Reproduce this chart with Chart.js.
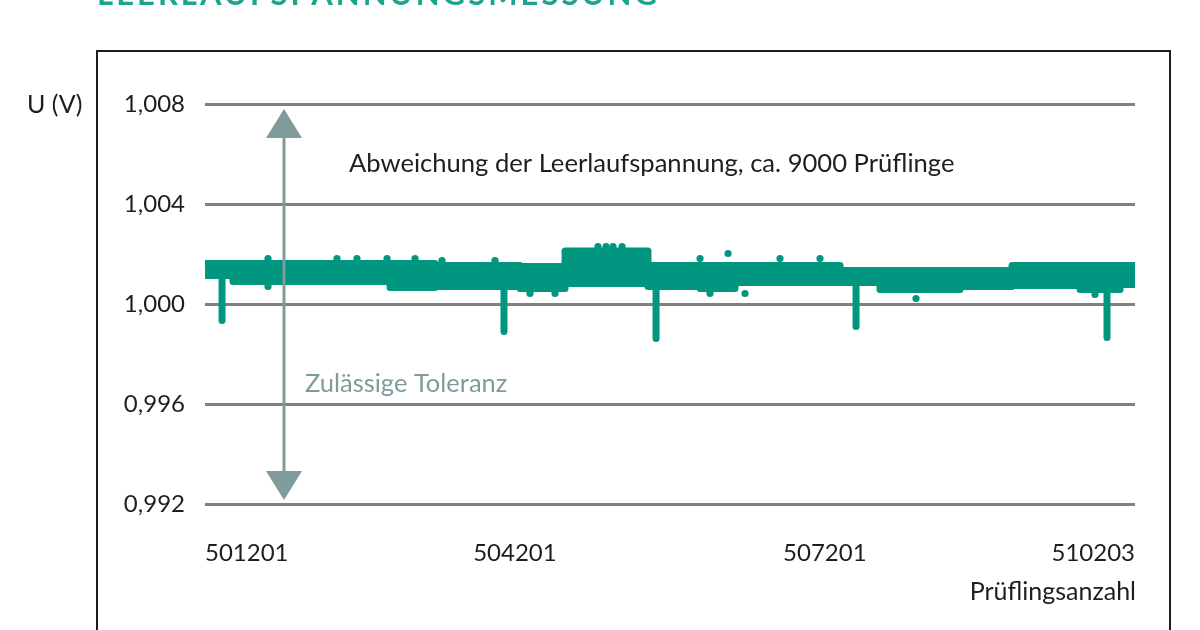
<!DOCTYPE html>
<html>
<head>
<meta charset="utf-8">
<script src="https://cdn.jsdelivr.net/npm/chart.js@4.4.1/dist/chart.umd.min.js"></script>
<style>
  html, body { margin: 0; padding: 0; background: #ffffff; overflow: hidden; }
  #wrap { position: relative; width: 1200px; height: 630px; }
  #frame { position: absolute; left: 96px; top: 50px; width: 1071px; height: 700px; border: 2px solid #1c1c1c; }
  canvas { position: absolute; left: 0; top: 0; }
</style>
</head>
<body>
<div id="wrap">
  <div id="frame"></div>
  <canvas id="c" width="1200" height="630"></canvas>
</div>
<script>
// ---- data ----
const titleText = 'LEERLAUFSPANNUNGSMESSUNG';
const yTitle = 'U (V)';
const xTitle = 'Prüflingsanzahl';
const noteText = 'Abweichung der Leerlaufspannung, ca. 9000 Prüflinge';
const toleranceText = 'Zulässige Toleranz';

const yTickValues = [0.992, 0.996, 1.000, 1.004, 1.008];
const xTickValues = [501201, 504201, 507201, 510203];
const xTickLabels = ['501201', '504201', '507201', '510203'];

// envelope of the measured band (max / min per section, value valid from envX[i] to envX[i+1])
const envX    = [501201, 501472, 502992, 503427, 503863, 504250, 504686, 505489, 505993, 506331, 507348, 507735, 508509, 509013, 509671, 510058, 510203];
const envHigh = [1.00162, 1.00162, 1.00162, 1.00154, 1.00154, 1.00150, 1.00212, 1.00154, 1.00154, 1.00154, 1.00134, 1.00134, 1.00134, 1.00154, 1.00154, 1.00154, 1.00154];
const envLow  = [1.00114, 1.00090, 1.00066, 1.00070, 1.00070, 1.00062, 1.00082, 1.00070, 1.00062, 1.00086, 1.00086, 1.00058, 1.00070, 1.00074, 1.00058, 1.00078, 1.00078];

// single high outliers
const upX = [501811, 502479, 502672, 502963, 503234, 503495, 504008, 505005, 505083, 505150, 505238, 505993, 506264, 506767, 507154];
const upY = [1.00182, 1.00182, 1.00182, 1.00182, 1.00182, 1.00174, 1.00174, 1.00230, 1.00230, 1.00230, 1.00230, 1.00182, 1.00202, 1.00182, 1.00182];

// single low outliers
const downX = [501811, 504347, 504589, 506089, 506428, 508083, 509816];
const downY = [1.00070, 1.00042, 1.00042, 1.00042, 1.00042, 1.00022, 1.00038];

// deep drops
const spikeX   = [501366, 504095, 505567, 507503, 509932];
const spikeY   = [0.99934, 0.99890, 0.99862, 0.99910, 0.99866];
const spikeTop = [1.00110, 1.00100, 1.00100, 1.00100, 1.00100];

// tolerance arrow
const arrowX = 501966;
const arrowFrom = 1.008;
const arrowTo = 0.992;

// ---- styling ----
const TEAL = '#00967f';
const TITLE_TEAL = '#1ea48e';
const ARROW = '#7f9b9b';
const TEXT = '#1e1e1e';
const FONT = 'Lato, "Open Sans", "Noto Sans", sans-serif';

const highPts = envX.map((x, i) => ({ x: x, y: envHigh[i] }));
const lowPts = envX.map((x, i) => ({ x: x, y: envLow[i] }));
const upPts = upX.map((x, i) => ({ x: x, y: upY[i] }));
const downPts = downX.map((x, i) => ({ x: x, y: downY[i] }));
const spikePts = [];
spikeX.forEach((x, i) => {
  spikePts.push({ x: x, y: spikeTop[i] });
  spikePts.push({ x: x, y: spikeY[i] });
  spikePts.push({ x: x, y: null });
});

const annotations = {
  id: 'annotations',
  afterDatasetsDraw(chart) {
    const ctx = chart.ctx;
    const xs = chart.scales.x, ys = chart.scales.y;
    ctx.save();
    // arrow
    const ax = Math.round(xs.getPixelForValue(arrowX));
    const yTop = ys.getPixelForValue(arrowFrom) + 5;
    const yBot = ys.getPixelForValue(arrowTo) - 4;
    const headH = 29, headW = 36;
    ctx.strokeStyle = ARROW;
    ctx.fillStyle = ARROW;
    ctx.lineWidth = 3;
    ctx.beginPath();
    ctx.moveTo(ax, yTop + headH - 2);
    ctx.lineTo(ax, yBot - headH + 2);
    ctx.stroke();
    ctx.beginPath();
    ctx.moveTo(ax, yTop);
    ctx.lineTo(ax + headW / 2, yTop + headH);
    ctx.lineTo(ax - headW / 2, yTop + headH);
    ctx.closePath();
    ctx.fill();
    ctx.beginPath();
    ctx.moveTo(ax, yBot);
    ctx.lineTo(ax + headW / 2, yBot - headH);
    ctx.lineTo(ax - headW / 2, yBot - headH);
    ctx.closePath();
    ctx.fill();

    // texts
    ctx.textBaseline = 'middle';
    ctx.textAlign = 'left';
    ctx.fillStyle = ARROW;
    ctx.font = '25.5px ' + FONT;
    ctx.fillText(toleranceText, ax + 21, 384);

    ctx.fillStyle = TEXT;
    ctx.font = '25.6px ' + FONT;
    ctx.fillText(noteText, 349, 164);

    ctx.font = '25px ' + FONT;
    ctx.fillText(yTitle, 27, ys.getPixelForValue(1.008) + 1);

    ctx.textAlign = 'right';
    ctx.font = '25px ' + FONT;
    ctx.fillText(xTitle, xs.right + 1, 592);

    // title (cut at the top edge)
    ctx.textAlign = 'left';
    ctx.textBaseline = 'alphabetic';
    ctx.fillStyle = TITLE_TEAL;
    ctx.font = 'bold 31px ' + FONT;
    const w = ctx.measureText(titleText).width;
    const target = 560;
    if ('letterSpacing' in ctx) {
      ctx.letterSpacing = ((target - w) / (titleText.length - 1)) + 'px';
    }
    ctx.fillText(titleText, 97, 5);
    ctx.restore();
  }
};

new Chart(document.getElementById('c'), {
  type: 'line',
  data: {
    datasets: [
      { data: highPts, borderColor: TEAL, backgroundColor: TEAL, borderWidth: 7, stepped: 'before',
        pointRadius: 0, fill: '+1', borderCapStyle: 'butt', borderJoinStyle: 'round' },
      { data: lowPts, borderColor: TEAL, backgroundColor: TEAL, borderWidth: 7, stepped: 'before',
        pointRadius: 0, fill: false, borderCapStyle: 'butt', borderJoinStyle: 'round' },
      { data: spikePts, borderColor: TEAL, borderWidth: 7, pointRadius: 0, spanGaps: false,
        borderCapStyle: 'round', fill: false },
      { data: upPts, showLine: false, pointRadius: 3.6, pointBackgroundColor: TEAL, pointBorderWidth: 0, fill: false },
      { data: downPts, showLine: false, pointRadius: 3.6, pointBackgroundColor: TEAL, pointBorderWidth: 0, fill: false }
    ]
  },
  options: {
    responsive: false,
    animation: false,
    devicePixelRatio: 1,
    layout: { padding: { top: 104, right: 65, left: 0, bottom: 0 } },
    plugins: { legend: { display: false }, tooltip: { enabled: false } },
    elements: { line: { tension: 0 } },
    scales: {
      x: {
        type: 'linear',
        min: 501201, max: 510203,
        afterBuildTicks: (s) => { s.ticks = xTickValues.map(v => ({ value: v })); },
        afterFit: (s) => { s.height = 126; },
        ticks: {
          align: 'inner', padding: 27, color: TEXT, autoSkip: false, maxRotation: 0,
          font: { family: FONT, size: 24 },
          callback: (v, i) => xTickLabels[i]
        },
        grid: { display: false },
        border: { display: false }
      },
      y: {
        min: 0.992, max: 1.008,
        afterBuildTicks: (s) => { s.ticks = yTickValues.map(v => ({ value: v })); },
        afterFit: (s) => { s.width = 205; },
        ticks: {
          padding: 20, color: TEXT,
          font: { family: FONT, size: 24 },
          callback: (v) => Number(v).toFixed(3).replace('.', ',')
        },
        grid: { color: '#808080', lineWidth: 3, drawTicks: false },
        border: { display: false }
      }
    }
  },
  plugins: [annotations]
});
</script>
</body>
</html>
